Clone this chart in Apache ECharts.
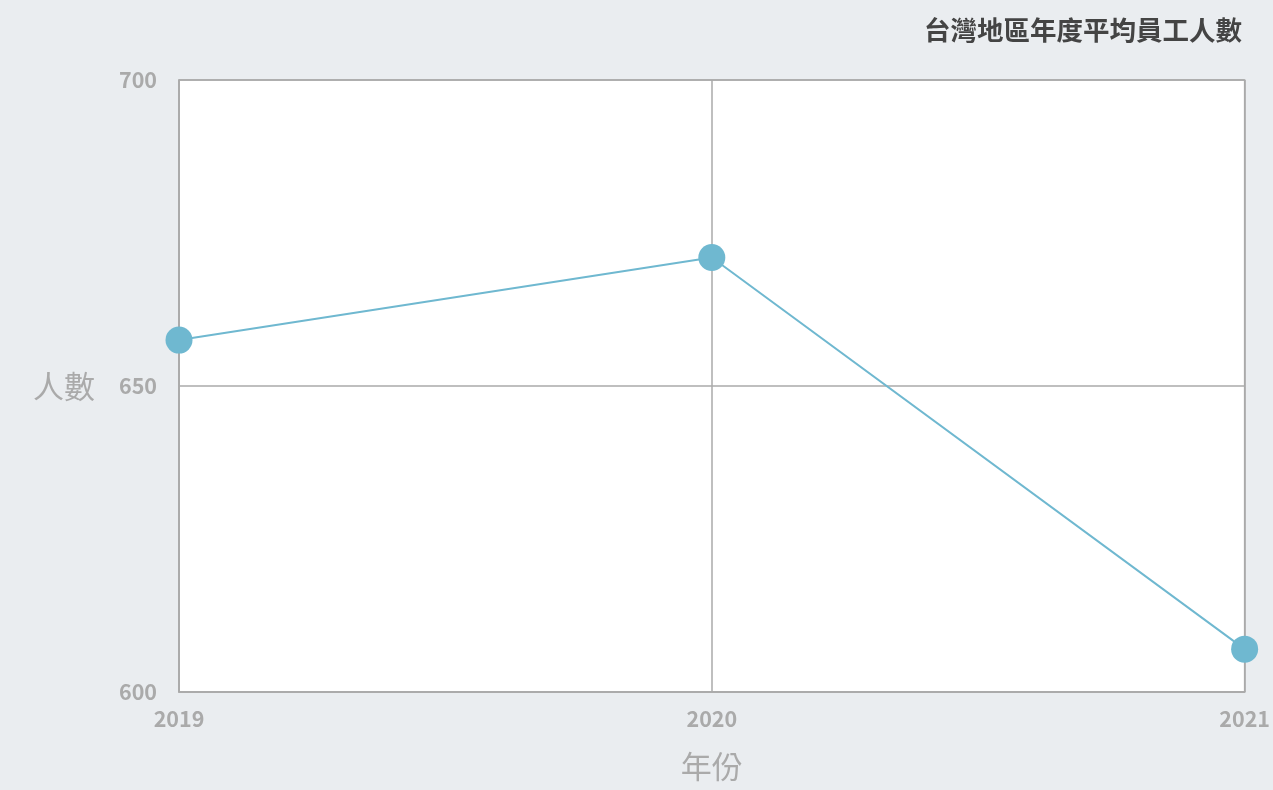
<!DOCTYPE html>
<html>
<head>
<meta charset="utf-8">
<script src="https://cdn.jsdelivr.net/npm/echarts@6/dist/echarts.min.js"></script>
<style>
html,body{margin:0;padding:0;background:#eaedf0;}
#c{width:1273px;height:790px;}
</style>
</head>
<body>
<div id="c"></div>
<script>
const years = ['2019', '2020', '2021'];
const employees = [657.5, 671, 607];
const yTicks = [600, 650, 700];

const FONT = '"Noto Sans CJK TC", "Noto Sans", sans-serif';
const chart = echarts.init(document.getElementById('c'));
chart.setOption({
  backgroundColor: '#eaedf0',
  title: {
    text: '台灣地區年度平均員工人數',
    right: 26,
    top: 12,
    textStyle: { fontFamily: FONT, fontSize: 26.5, fontWeight: 'bold', color: '#444' }
  },
  grid: {
    left: 179, right: 27, top: 80, bottom: 98,
    show: true, backgroundColor: '#ffffff', borderColor: '#aaaaaa', borderWidth: 1.5
  },
  xAxis: {
    type: 'category',
    data: years,
    boundaryGap: false,
    name: '年份',
    nameLocation: 'middle',
    nameGap: 59,
    nameTextStyle: { fontFamily: FONT, fontSize: 31, color: '#aaaaaa' },
    axisLine: { lineStyle: { color: '#aaaaaa', width: 1.5 } },
    axisTick: { show: false },
    axisLabel: { fontFamily: FONT, fontSize: 21.5, fontWeight: 'bold', color: '#aaaaaa', margin: 16 },
    splitLine: { show: true, lineStyle: { color: '#aaaaaa', width: 1.5 } }
  },
  yAxis: {
    type: 'value',
    min: yTicks[0],
    max: yTicks[yTicks.length - 1],
    interval: 50,
    name: '人數',
    nameLocation: 'middle',
    nameRotate: 0,
    nameGap: 84,
    nameTextStyle: { fontFamily: FONT, fontSize: 31, color: '#aaaaaa' },
    axisLine: { show: true, lineStyle: { color: '#aaaaaa', width: 1.5 } },
    axisTick: { show: false },
    axisLabel: { fontFamily: FONT, fontSize: 21.5, fontWeight: 'bold', color: '#aaaaaa', margin: 22 },
    splitLine: { show: true, lineStyle: { color: '#aaaaaa', width: 1.5 } }
  },
  series: [{
    type: 'line',
    data: employees,
    symbol: 'circle',
    symbolSize: 27,
    lineStyle: { color: '#6fb8d0', width: 2 },
    itemStyle: { color: '#6fb8d0' },
    animation: false
  }]
});
</script>
</body>
</html>
